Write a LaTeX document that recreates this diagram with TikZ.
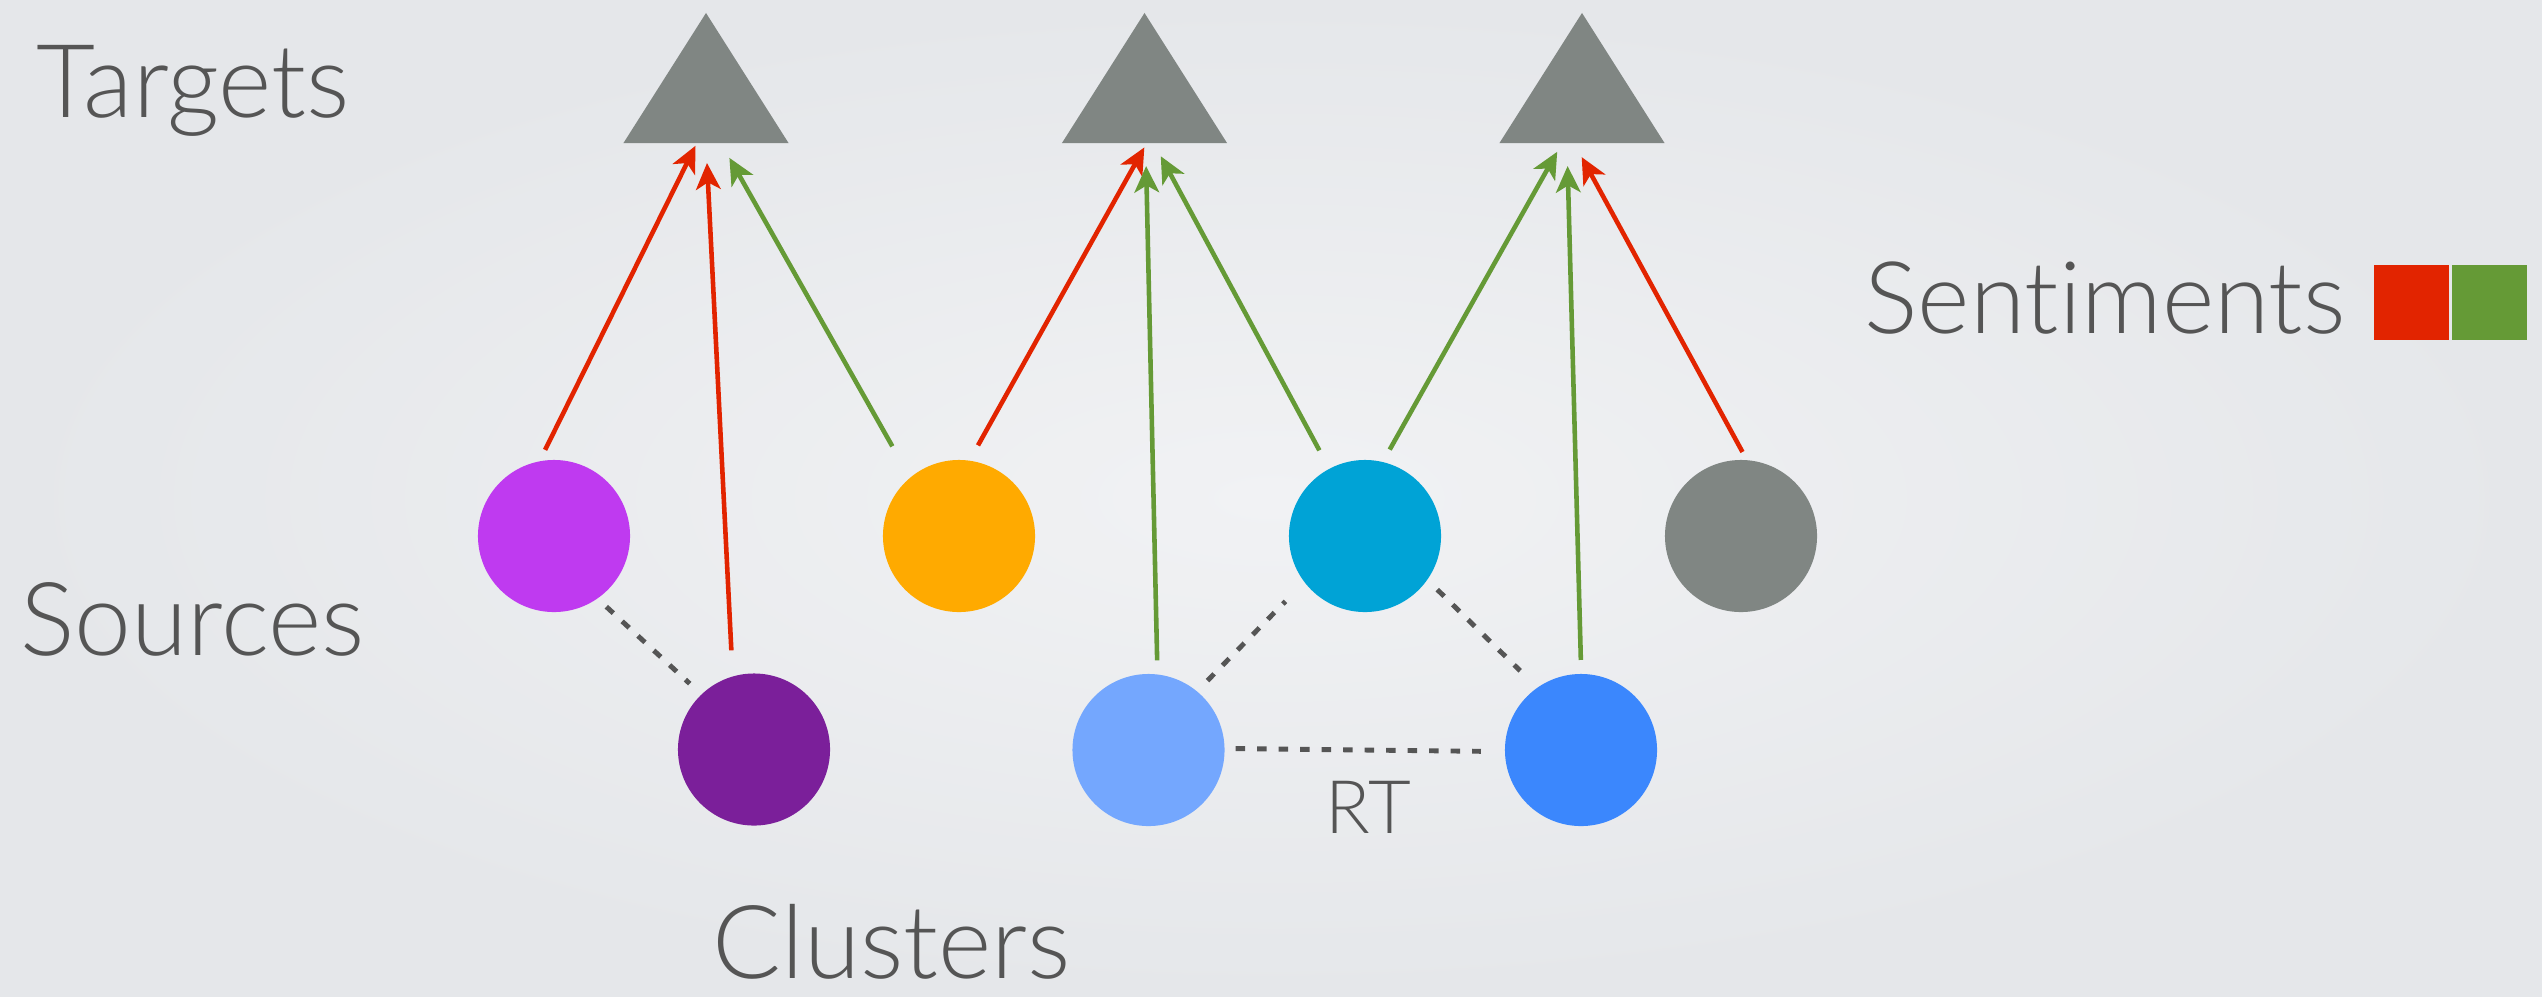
\documentclass[tikz,border=0pt]{standalone}
\usepackage{fontspec}
\setmainfont{Lato Light}[Ligatures=NoCommon]
\usepackage{tikz}
\usetikzlibrary{arrows.meta,positioning,calc}

\definecolor{bgin}{RGB}{241,242,244}
\definecolor{bgout}{RGB}{229,231,234}
\definecolor{textgray}{RGB}{85,85,85}
\definecolor{tgtgray}{RGB}{128,134,131}
\definecolor{negred}{RGB}{226,36,0}
\definecolor{posgreen}{RGB}{101,154,54}
\definecolor{srcpurple}{RGB}{191,58,240}
\definecolor{srcorange}{RGB}{255,170,0}
\definecolor{srccyan}{RGB}{0,163,214}
\definecolor{srcgray}{RGB}{128,134,131}
\definecolor{clpurple}{RGB}{123,31,154}
\definecolor{cllight}{RGB}{116,167,254}
\definecolor{clblue}{RGB}{59,135,253}

\begin{document}
\begin{tikzpicture}[
    x=0.01cm, y=-0.01cm,
    src/.style={circle, minimum size=1.52cm, inner sep=0pt, outer sep=0.08cm},
    tgt/.style={rectangle, minimum width=1.65cm, minimum height=1.3cm, inner sep=0pt, outer sep=0pt,
        path picture={\fill[tgtgray] (path picture bounding box.south west) -- (path picture bounding box.north)
            -- (path picture bounding box.south east) -- cycle;}},
    swatch/.style={rectangle, minimum size=0.75cm, inner sep=0pt},
    lbl/.style={anchor=base west, inner sep=0pt, text=textgray, font=\fontsize{29}{34}\selectfont},
    posarrow/.style={-{Stealth[length=7.5pt, width=7pt, inset=2pt]}, posgreen, line width=1.3pt},
    negarrow/.style={-{Stealth[length=7.5pt, width=7pt, inset=2pt]}, negred, line width=1.3pt},
    link/.style={textgray, line width=1.4pt, dash pattern=on 0.095cm off 0.12cm}
]

% background
\shade[inner color=bgin, outer color=bgout] (0,0) rectangle (2542,996);
\useasboundingbox (0,0) rectangle (2542,996);

% row labels
\node[lbl] (targets) at (36,117) {Targets};
\node[lbl] (sources) at (20,655) {Sources};
\node[lbl, text depth=0pt] (clusters) at (712,978) {Clusters};
\node[lbl, font=\fontsize{28.5}{33}\selectfont] (sentiments) at (1864,333) {Sentiments};

% targets
\node[tgt] (t1) at (706,78) {};
\node[tgt] (t2) at (1144.5,78) {};
\node[tgt] (t3) at (1582,78) {};

% sources
\node[src, fill=srcpurple] (s1) at (554,536) {};
\node[src, fill=srcorange] (s2) at (959,536) {};
\node[src, fill=srccyan] (s3) at (1365,536) {};
\node[src, fill=srcgray] (s4) at (1741,536) {};

% clusters
\node[src, fill=clpurple] (c1) at (754,749.5) {};
\node[src, fill=cllight] (c2) at (1148.5,750) {};
\node[src, fill=clblue] (c3) at (1581,750) {};

% sentiment key
\node[swatch, fill=negred] (negkey) at (2411.5,302.5) {};
\node[swatch, fill=posgreen] (poskey) at (2489.5,302.5) {};

% source -> target
\draw[negarrow, shorten <=0.03cm, shorten >=0.03cm] (s1.97) -- (t1.-98);
\draw[negarrow, shorten <=0.18cm, shorten >=0.20cm] (c1.105) -- (t1.-90);
\draw[posarrow, shorten <=0.28cm, shorten >=0.17cm] (s2.129) -- (t1.-77);
\draw[negarrow, shorten <=0.09cm, shorten >=0.05cm] (s2.80) -- (t2.-88);
\draw[posarrow, shorten <=0.06cm, shorten >=0.23cm] (c2.84) -- (t2.-89);
\draw[posarrow, shorten <=0.13cm, shorten >=0.15cm] (s3.118) -- (t2.-82);
\draw[posarrow, shorten <=0.06cm, shorten >=0.10cm] (s3.75) -- (t3.-107);
\draw[posarrow, shorten <=0.06cm, shorten >=0.23cm] (c3.90) -- (t3.-103);
\draw[negarrow, shorten >=0.16cm] (s4.89) -- (t3.-97);

% cluster links
\draw[link, shorten <=0.04cm, shorten >=0.08cm] (s1.-54) -- (c1.134);
\draw[link, shorten <=0.07cm, shorten >=0.19cm] (c2.50) -- (s3.-142);
\draw[link, shorten <=0.06cm, shorten >=0.16cm] (s3.-36) -- (c3.126);
\draw[link, shorten <=0.03cm, shorten >=0.16cm] (c2.1) -- (c3.181);
\node[lbl, font=\fontsize{21}{25}\selectfont] (rt) at (1325,833) {RT};

\end{tikzpicture}
\end{document}
